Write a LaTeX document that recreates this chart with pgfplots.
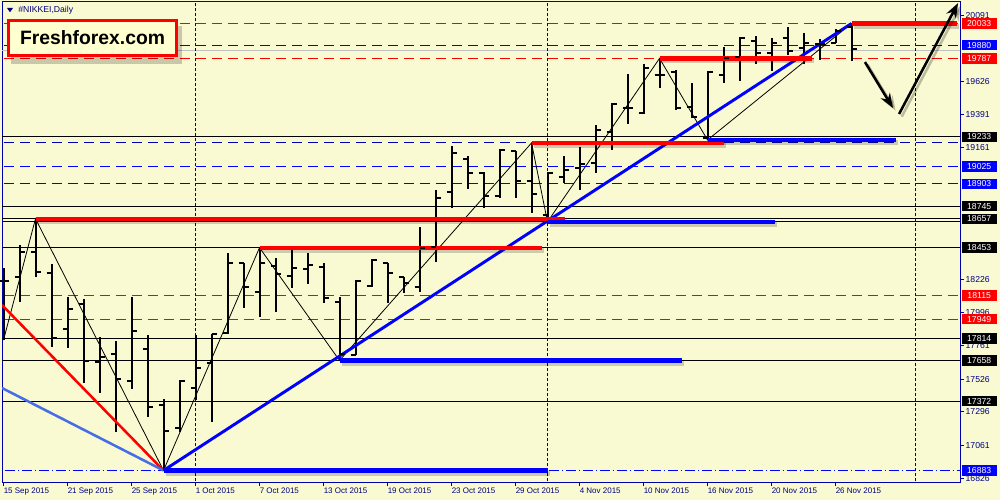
\documentclass[border=0pt]{standalone}
\usepackage{pgfplots}
\pgfplotsset{compat=1.18}
\usepackage{pgfplotstable}
\usepackage{fontspec}
\setmainfont{Liberation Sans}
\usetikzlibrary{arrows.meta}

\definecolor{bg}{RGB}{250,250,210}
\definecolor{navytxt}{RGB}{0,0,128}
\definecolor{frame}{RGB}{0,0,170}
\definecolor{lblue}{RGB}{70,110,230}
\definecolor{logofill}{RGB}{255,255,208}
\definecolor{pgray}{RGB}{192,192,192}

\pgfdeclareplotmark{ohlcO}{\pgfpathmoveto{\pgfqpoint{-3.75pt}{0pt}}\pgfpathlineto{\pgfqpoint{0pt}{0pt}}\pgfusepathqstroke}
\pgfdeclareplotmark{ohlcC}{\pgfpathmoveto{\pgfqpoint{0pt}{0pt}}\pgfpathlineto{\pgfqpoint{3.75pt}{0pt}}\pgfusepathqstroke}

\pgfplotstableread{
x o h l c
0 18218 18310 17802 18218
1 18246 18472 18070 18423
2 18423 18657 18246 18282
3 18275 18338 17753 17817
4 17880 18105 17746 18021
5 18056 18091 17499 17654
6 17647 17824 17429 17683
7 17704 17795 17154 17528
8 17514 18105 17457 17866
9 17739 17838 17260 17330
10 17344 17387 16883 17161
11 17182 17521 17154 17514
12 17464 17838 17380 17605
13 17640 17845 17225 17845
14 17852 18416 17845 18345
15 18345 18345 18028 18176
16 18141 18453 17964 18345
17 18324 18380 17999 18267
18 18253 18437 18169 18310
19 18303 18416 18197 18331
20 18317 18345 18063 18098
21 18070 18105 17658 17704
22 17697 18225 17697 18218
23 18183 18373 18176 18366
24 18345 18345 18063 18275
25 18246 18246 18134 18204
26 18176 18599 18141 18451
27 18458 18860 18352 18803
28 18845 19170 18733 19120
29 19078 19099 18867 18979
30 18979 18986 18733 18817
31 18817 19148 18803 19141
32 19134 19134 18803 18923
33 18923 19191 18697 18831
34 18683 18986 18635 18979
35 18951 19099 18909 19000
36 19015 19162 18860 19043
37 19050 19318 18979 19282
38 19268 19473 19141 19466
39 19437 19677 19325 19437
40 19402 19747 19395 19719
41 19670 19787 19578 19670
42 19691 19705 19423 19437
43 19444 19614 19367 19374
44 19226 19698 19212 19691
45 19670 19867 19614 19790
46 19797 19938 19628 19931
47 19910 19945 19747 19825
48 19825 19931 19698 19895
49 19931 20008 19811 19839
50 19860 19966 19747 19895
51 19888 19924 19776 19888
52 19895 19994 19895 19980
53 20008 20033 19769 19853
}\bars

\begin{document}
\begin{tikzpicture}
\path[use as bounding box] (0,0) rectangle (750pt,375pt);
\fill[bg] (0,0) rectangle (750pt,375pt);
\begin{axis}[
  at={(1.5pt,13.5pt)}, anchor=south west,
  scale only axis, width=718.5pt, height=360pt,
  xmin=-0.094, xmax=59.78, ymin=16801.7, ymax=20184.3,
  axis line style={draw=frame, line width=0.75pt},
  xtick={0,4,...,52},
  xticklabels={15 Sep 2015,21 Sep 2015,25 Sep 2015,1 Oct 2015,7 Oct 2015,13 Oct 2015,19 Oct 2015,23 Oct 2015,29 Oct 2015,4 Nov 2015,10 Nov 2015,16 Nov 2015,20 Nov 2015,26 Nov 2015},
  xtick pos=bottom, ytick pos=right,
  tick align=outside, major tick length=3pt,
  tick style={draw=frame, line width=0.75pt},
  xticklabel style={font=\fontsize{6}{7}\selectfont, text=navytxt, anchor=north west, inner sep=0pt, yshift=-1pt},
  ytick={16826,17061,17296,17526,17761,17996,18226,19161,19391,19626,20091},
  yticklabels={16826,17061,17296,17526,17761,17996,18226,19161,19391,19626,20091},
  scaled y ticks=false,
  yticklabel pos=right,
  yticklabel style={font=\fontsize{6.5}{7}\selectfont, text=navytxt, anchor=west, inner sep=0pt, xshift=1pt},
]
% level lines
\addplot[red, line width=0.75pt, dash pattern=on 7.5pt off 4.5pt] coordinates {(-1,20033) (61,20033)};
\addplot[red, line width=0.75pt, dash pattern=on 7.5pt off 4.5pt] coordinates {(-1,19787) (61,19787)};
\addplot[red, line width=0.75pt, dash pattern=on 7.5pt off 4.5pt] coordinates {(-1,18115) (61,18115)};
\addplot[red, line width=0.75pt, dash pattern=on 7.5pt off 4.5pt] coordinates {(-1,17949) (61,17949)};
\addplot[blue, line width=0.75pt, dash pattern=on 7.5pt off 4.5pt] coordinates {(-1,19880) (61,19880)};
\addplot[blue!70!black, line width=0.75pt, dash pattern=on 7.5pt off 4.5pt] coordinates {(-1,19191) (61,19191)};
\addplot[blue, line width=0.75pt, dash pattern=on 7.5pt off 4.5pt] coordinates {(-1,19025) (61,19025)};
\addplot[blue, line width=0.75pt, dash pattern=on 7.5pt off 4.5pt] coordinates {(-1,18903) (61,18903)};
\addplot[pgray, line width=0.75pt] coordinates {(-1,19845) (61,19845)};
\addplot[black, line width=0.75pt] coordinates {(-1,19233) (61,19233)};
\addplot[black, line width=0.75pt] coordinates {(-1,18745) (61,18745)};
\addplot[black, line width=0.75pt] coordinates {(-1,18657) (61,18657)};
\addplot[black, line width=0.75pt] coordinates {(-1,18635) (61,18635)};
\addplot[black, line width=0.75pt] coordinates {(-1,18453) (61,18453)};
\addplot[black, line width=0.75pt] coordinates {(-1,17814) (61,17814)};
\addplot[black, line width=0.75pt] coordinates {(-1,17658) (61,17658)};
\addplot[black, line width=0.75pt] coordinates {(-1,17372) (61,17372)};
\addplot[blue, line width=0.75pt, dash pattern=on 7.5pt off 2.25pt on 0.75pt off 2.25pt] coordinates {(-1,16883) (61,16883)};
% month separators
\addplot[navytxt, line width=0.75pt, dash pattern=on 2.25pt off 1.5pt] coordinates {(12,16700) (12,20300)};
\addplot[navytxt, line width=0.75pt, dash pattern=on 2.25pt off 1.5pt] coordinates {(34,16700) (34,20300)};
\addplot[navytxt, line width=0.75pt, dash pattern=on 2.25pt off 1.5pt] coordinates {(57,16700) (57,20300)};
% OHLC bars
\addplot[draw=none, forget plot, error bars/.cd, y dir=both, y explicit, error mark=none,
  error bar style={draw=black, line width=1.5pt, solid}]
  table[x=x, y expr={(\thisrow{h}+\thisrow{l})/2}, y error expr={(\thisrow{h}-\thisrow{l})/2}] {\bars};
\addplot[only marks, mark=ohlcO, mark options={draw=black, line width=1.5pt}] table[x=x, y=o] {\bars};
\addplot[only marks, mark=ohlcC, mark options={draw=black, line width=1.5pt}] table[x=x, y=c] {\bars};
% zigzag
\addplot[black, line width=0.6pt] coordinates {(0,17802) (2,18657) (10,16883) (16,18453) (21,17658) (33,19191) (34,18635) (41,19787) (44,19212) (53,20033)};
% trend lines
\addplot[red, line width=1.9pt] coordinates {(-0.094,18049) (10,16883)};
\addplot[lblue, line width=1.9pt] coordinates {(-0.094,17464) (10,16883)};
\addplot[blue, line width=2.2pt] coordinates {(10,16883) (53,20033)};
% thick segments: shadows
\addplot[black, opacity=0.18, line width=3.6pt, xshift=1.5pt, yshift=-2pt] coordinates {(2,18657) (35.1,18657)};
\addplot[black, opacity=0.18, line width=3.6pt, xshift=1.5pt, yshift=-2pt] coordinates {(16,18453) (33.66,18453)};
\addplot[black, opacity=0.18, line width=3.6pt, xshift=1.5pt, yshift=-2pt] coordinates {(21,17658) (42.4,17658)};
\addplot[black, opacity=0.18, line width=3.6pt, xshift=1.5pt, yshift=-2pt] coordinates {(10,16883) (34,16883)};
\addplot[black, opacity=0.18, line width=3.6pt, xshift=1.5pt, yshift=-2pt] coordinates {(33,19191) (45,19191)};
\addplot[black, opacity=0.18, line width=3.6pt, xshift=1.5pt, yshift=-2pt] coordinates {(44,19212) (55.8,19212)};
\addplot[black, opacity=0.18, line width=3.6pt, xshift=1.5pt, yshift=-2pt] coordinates {(41,19787) (50.5,19787)};
\addplot[black, opacity=0.18, line width=3.6pt, xshift=1.5pt, yshift=-2pt] coordinates {(53,20033) (59.6,20033)};
\addplot[black, opacity=0.18, line width=3.6pt, xshift=1.5pt, yshift=-2pt] coordinates {(34,18635) (48.2,18635)};
% thick segments
\addplot[red, line width=3.2pt] coordinates {(2,18657) (35.1,18657)};
\addplot[red, line width=3.2pt] coordinates {(16,18453) (33.66,18453)};
\addplot[blue, line width=3.2pt] coordinates {(21,17658) (42.4,17658)};
\addplot[blue, line width=3.2pt] coordinates {(10,16883) (34,16883)};
\addplot[red, line width=3.2pt] coordinates {(33,19191) (45,19191)};
\addplot[blue, line width=3.2pt] coordinates {(44,19212) (55.8,19212)};
\addplot[red, line width=3.2pt] coordinates {(41,19787) (50.5,19787)};
\addplot[red, line width=3.2pt] coordinates {(53,20033) (59.6,20033)};
\addplot[blue, line width=3.2pt] coordinates {(34,18635) (48.2,18635)};
% arrows
\addplot[black, opacity=0.25, line width=1.9pt, xshift=2pt, yshift=-2pt, -{Stealth[length=11pt,width=8pt]}] coordinates {(53.84,19761) (55.59,19437)};
\addplot[black, opacity=0.25, line width=1.9pt, xshift=2pt, yshift=-2pt, -{Stealth[length=11pt,width=8pt]}] coordinates {(55.97,19395) (59.66,20177)};
\addplot[black, line width=1.9pt, -{Stealth[length=11pt,width=8pt]}] coordinates {(53.84,19761) (55.59,19437)};
\addplot[black, line width=1.9pt, -{Stealth[length=11pt,width=8pt]}] coordinates {(55.97,19395) (59.66,20177)};
% label anchors
\coordinate (L20033) at (axis cs:59.78,20033);
\coordinate (L19880) at (axis cs:59.78,19880);
\coordinate (L19787) at (axis cs:59.78,19787);
\coordinate (L19233) at (axis cs:59.78,19233);
\coordinate (L19025) at (axis cs:59.78,19025);
\coordinate (L18903) at (axis cs:59.78,18903);
\coordinate (L18745) at (axis cs:59.78,18745);
\coordinate (L18657) at (axis cs:59.78,18657);
\coordinate (L18453) at (axis cs:59.78,18453);
\coordinate (L18115) at (axis cs:59.78,18115);
\coordinate (L17949) at (axis cs:59.78,17949);
\coordinate (L17814) at (axis cs:59.78,17814);
\coordinate (L17658) at (axis cs:59.78,17658);
\coordinate (L17372) at (axis cs:59.78,17372);
\coordinate (L16883) at (axis cs:59.78,16883);
\end{axis}
\tikzset{lbl/.style={anchor=west, text=white, inner sep=0pt, minimum width=26pt, minimum height=7.8pt, font=\fontsize{6.5}{7}\selectfont, xshift=1.2pt}}
\node[lbl, fill=red] at (L20033) {20033};
\node[lbl, fill=blue] at (L19880) {19880};
\node[lbl, fill=red] at (L19787) {19787};
\node[lbl, fill=black] at (L19233) {19233};
\node[lbl, fill=blue] at (L19025) {19025};
\node[lbl, fill=blue] at (L18903) {18903};
\node[lbl, fill=black] at (L18745) {18745};
\node[lbl, fill=black] at (L18657) {18657};
\node[lbl, fill=black] at (L18453) {18453};
\node[lbl, fill=red] at (L18115) {18115};
\node[lbl, fill=red] at (L17949) {17949};
\node[lbl, fill=black] at (L17814) {17814};
\node[lbl, fill=black] at (L17658) {17658};
\node[lbl, fill=black] at (L17372) {17372};
\node[lbl, fill=blue] at (L16883) {16883};
% header
\fill[navytxt] (5.25pt,369pt) -- (9.75pt,369pt) -- (7.5pt,365.8pt) -- cycle;
\node[anchor=west, text=navytxt, inner sep=0pt, font=\fontsize{6.5}{7}\selectfont] at (13.5pt,367.5pt) {\#NIKKEI,Daily};
% logo
\fill[black, opacity=0.2] (8.5pt,327pt) rectangle (136.5pt,355.5pt);
\node[draw=red, line width=2.2pt, fill=logofill, minimum width=126pt, minimum height=26.5pt, inner sep=0pt, font=\fontsize{14.5}{16}\selectfont\bfseries] at (69.4pt,346.5pt) {Freshforex.com};
\end{tikzpicture}
\end{document}
